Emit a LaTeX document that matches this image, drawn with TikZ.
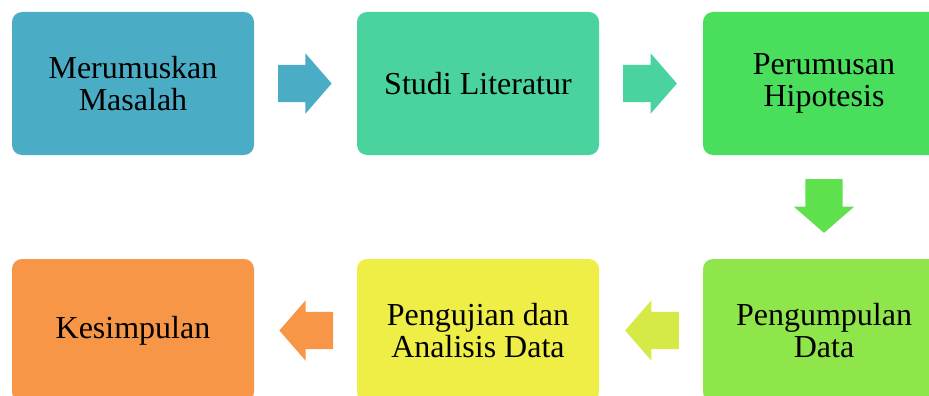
\documentclass[tikz,border=0pt]{standalone}
\usepackage{fontspec}
\setmainfont{Liberation Serif}
\usetikzlibrary{shapes.arrows,calc}

\definecolor{stepblue}{HTML}{4BACC6}
\definecolor{stepteal}{HTML}{4AD39F}
\definecolor{stepgreen}{HTML}{4ADE5D}
\definecolor{steplime}{HTML}{8FE64B}
\definecolor{stepyellow}{HTML}{EEEE46}
\definecolor{steporange}{HTML}{F79646}
\definecolor{downgreen}{HTML}{5EE14D}
\definecolor{leftlime}{HTML}{D5EA47}

\tikzset{
  stage/.style={rectangle,rounded corners=10pt,minimum width=242pt,minimum height=143pt,
    inner sep=0pt,align=center,font=\fontsize{32}{31.5}\selectfont},
  flow/.style={single arrow,minimum height=52pt,inner sep=18.5pt,anchor=tail,
    single arrow head extend=11.5pt,single arrow tip angle=98}
}

\begin{document}
\begin{tikzpicture}[x=1pt,y=-1pt]
    \useasboundingbox (0,0) rectangle (929,396);
    \clip (0,0) rectangle (929,396);

    %stages
    \node[stage,fill=stepblue] (rumus) at (133,83.5) {Merumuskan\\Masalah};
    \node[stage,fill=stepteal] (studi) at (478,83.5) {Studi Literatur};
    \node[stage,fill=stepgreen] (hipo) at (824,83.5) {Perumusan\\Hipotesis};
    \node[stage,fill=steplime] (kumpul) at (824,330.5) {Pengumpulan\\Data};
    \node[stage,fill=stepyellow] (uji) at (478,330.5) {Pengujian dan\\Analisis Data};
    \node[stage,fill=steporange] (simpul) at (133,330.5) {Kesimpulan};

    %arrows
    \node[flow,fill=stepblue] (a1) at ($(rumus.east)!0.23!(studi.west)$) {};
    \node[flow,fill=stepteal] (a2) at ($(studi.east)!0.23!(hipo.west)$) {};
    \node[flow,fill=downgreen,shape border rotate=270] (a3) at ($(hipo.south)!0.23!(kumpul.north)$) {};
    \node[flow,fill=leftlime,shape border rotate=180] (a4) at ($(kumpul.west)!0.23!(uji.east)$) {};
    \node[flow,fill=steporange,shape border rotate=180] (a5) at ($(uji.west)!0.23!(simpul.east)$) {};
\end{tikzpicture}
\end{document}
